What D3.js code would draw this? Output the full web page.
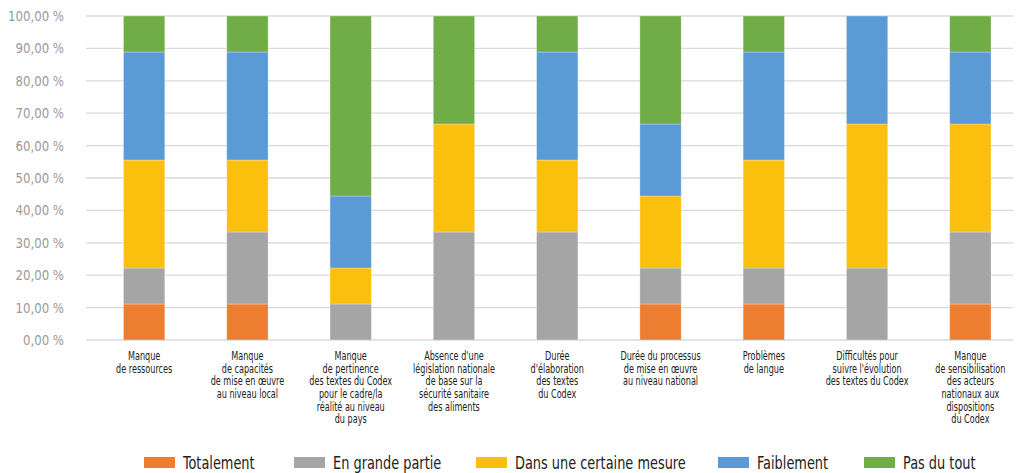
<!DOCTYPE html>
<html>
<head>
<meta charset="utf-8">
<script src="https://cdn.jsdelivr.net/npm/d3@7"></script>
<style>
  body { margin: 0; background: #fff; }
  svg { display: block; font-family: "DejaVu Sans Condensed", "DejaVu Sans", sans-serif; }
</style>
</head>
<body>
<div id="chart"></div>
<script>
// categories (line breaks as in the original labels)
const categories = [
  ["Manque", "de ressources"],
  ["Manque", "de capacités", "de mise en œuvre", "au niveau local"],
  ["Manque", "de pertinence", "des textes du Codex", "pour le cadre/la", "réalité au niveau", "du pays"],
  ["Absence d'une", "législation nationale", "de base sur la", "sécurité sanitaire", "des aliments"],
  ["Durée", "d'élaboration", "des textes", "du Codex"],
  ["Durée du processus", "de mise en œuvre", "au niveau national"],
  ["Problèmes", "de langue"],
  ["Difficultés pour", "suivre l'évolution", "des textes du Codex"],
  ["Manque", "de sensibilisation", "des acteurs", "nationaux aux", "dispositions", "du Codex"]
]

const seriesNames = ["Totalement", "En grande partie", "Dans une certaine mesure", "Faiblement", "Pas du tout"]
const seriesColors = ["#ED7D31", "#A5A5A5", "#FBBF0E", "#5B9BD5", "#70AD47"]

// percentages per series, one value per category
const totalement       = [11.11, 11.11, 0,     0,     0,     11.11, 11.11, 0,     11.11]
const enGrandePartie   = [11.11, 22.22, 11.11, 33.33, 33.33, 11.11, 11.11, 22.22, 22.22]
const certaineMesure   = [33.33, 22.22, 11.11, 33.33, 22.22, 22.22, 33.33, 44.45, 33.33]
const faiblement       = [33.34, 33.34, 22.22, 0,     33.34, 22.22, 33.34, 33.33, 22.23]
const pasDuTout        = [11.11, 11.11, 55.56, 33.34, 11.11, 33.34, 11.11, 0,     11.11]

const yTicks = [0, 10, 20, 30, 40, 50, 60, 70, 80, 90, 100]

const width = 1019, height = 473

const rows = categories.map((c, i) => ({
  key: i,
  s0: totalement[i], s1: enGrandePartie[i], s2: certaineMesure[i], s3: faiblement[i], s4: pasDuTout[i]
}))
const keys = ["s0", "s1", "s2", "s3", "s4"]
const stacked = d3.stack().keys(keys)(rows)

const svg = d3.select("#chart").append("svg")
  .attr("width", width)
  .attr("height", height)

const x = d3.scaleBand()
  .domain(d3.range(categories.length))
  .range([92.5, 1022])
  .paddingInner(0.6)
  .paddingOuter(0.3)

const y = d3.scaleLinear()
  .domain([0, 100])
  .range([340, 16])

// grid
svg.append("g")
  .selectAll("line")
  .data(yTicks)
  .enter()
  .append("line")
  .attr("x1", 86)
  .attr("x2", 1013)
  .attr("y1", d => y(d))
  .attr("y2", d => y(d))
  .style("stroke", "#d9d9d9")
  .style("stroke-width", 1.3)

// y labels (font is narrower in the original, so squeeze a bit)
svg.append("g")
  .selectAll("text")
  .data(yTicks)
  .enter()
  .append("text")
  .attr("transform", d => `translate(64, ${y(d)}) scale(0.9, 1)`)
  .attr("dy", "0.35em")
  .attr("text-anchor", "end")
  .attr("fill", "#9a9a9a")
  .style("font-size", "14.5px")
  .text(d => d3.format(".2f")(d).replace(".", ",") + " %")

// bars
svg.append("g")
  .selectAll("g")
  .data(stacked)
  .enter()
  .append("g")
  .attr("fill", (d, i) => seriesColors[i])
  .selectAll("rect")
  .data(d => d.filter(p => p[1] - p[0] > 0))
  .enter()
  .append("rect")
  .attr("x", d => x(d.data.key))
  .attr("width", x.bandwidth())
  .attr("y", d => y(d[1]))
  .attr("height", d => y(d[0]) - y(d[1]))
  .style("stroke", "#fff")
  .style("stroke-opacity", 0.35)
  .style("stroke-width", 0.8)

// category labels
const cat = svg.append("g")
  .selectAll("text")
  .data(categories)
  .enter()
  .append("text")
  .attr("text-anchor", "middle")
  .attr("fill", "#222")
  .style("font-size", "12.5px")
  .attr("transform", (d, i) => `translate(${x(i) + x.bandwidth() / 2}, 360) scale(0.72, 1)`)

cat.selectAll("tspan")
  .data(d => d)
  .enter()
  .append("tspan")
  .attr("x", 0)
  .attr("y", (d, i) => i * 12.7)
  .text(d => d)

// legend
const legendX = [144, 294, 476, 718, 864]
const legend = svg.append("g")
  .selectAll("g")
  .data(seriesNames)
  .enter()
  .append("g")
  .attr("transform", (d, i) => `translate(${legendX[i]}, 457)`)

legend.append("rect")
  .attr("width", 31)
  .attr("height", 11)
  .attr("fill", (d, i) => seriesColors[i])

legend.append("text")
  .attr("transform", "translate(39, 5.5) scale(0.82, 1)")
  .attr("dy", "0.35em")
  .attr("fill", "#222")
  .style("font-size", "17.5px")
  .text(d => d)
</script>
</body>
</html>
